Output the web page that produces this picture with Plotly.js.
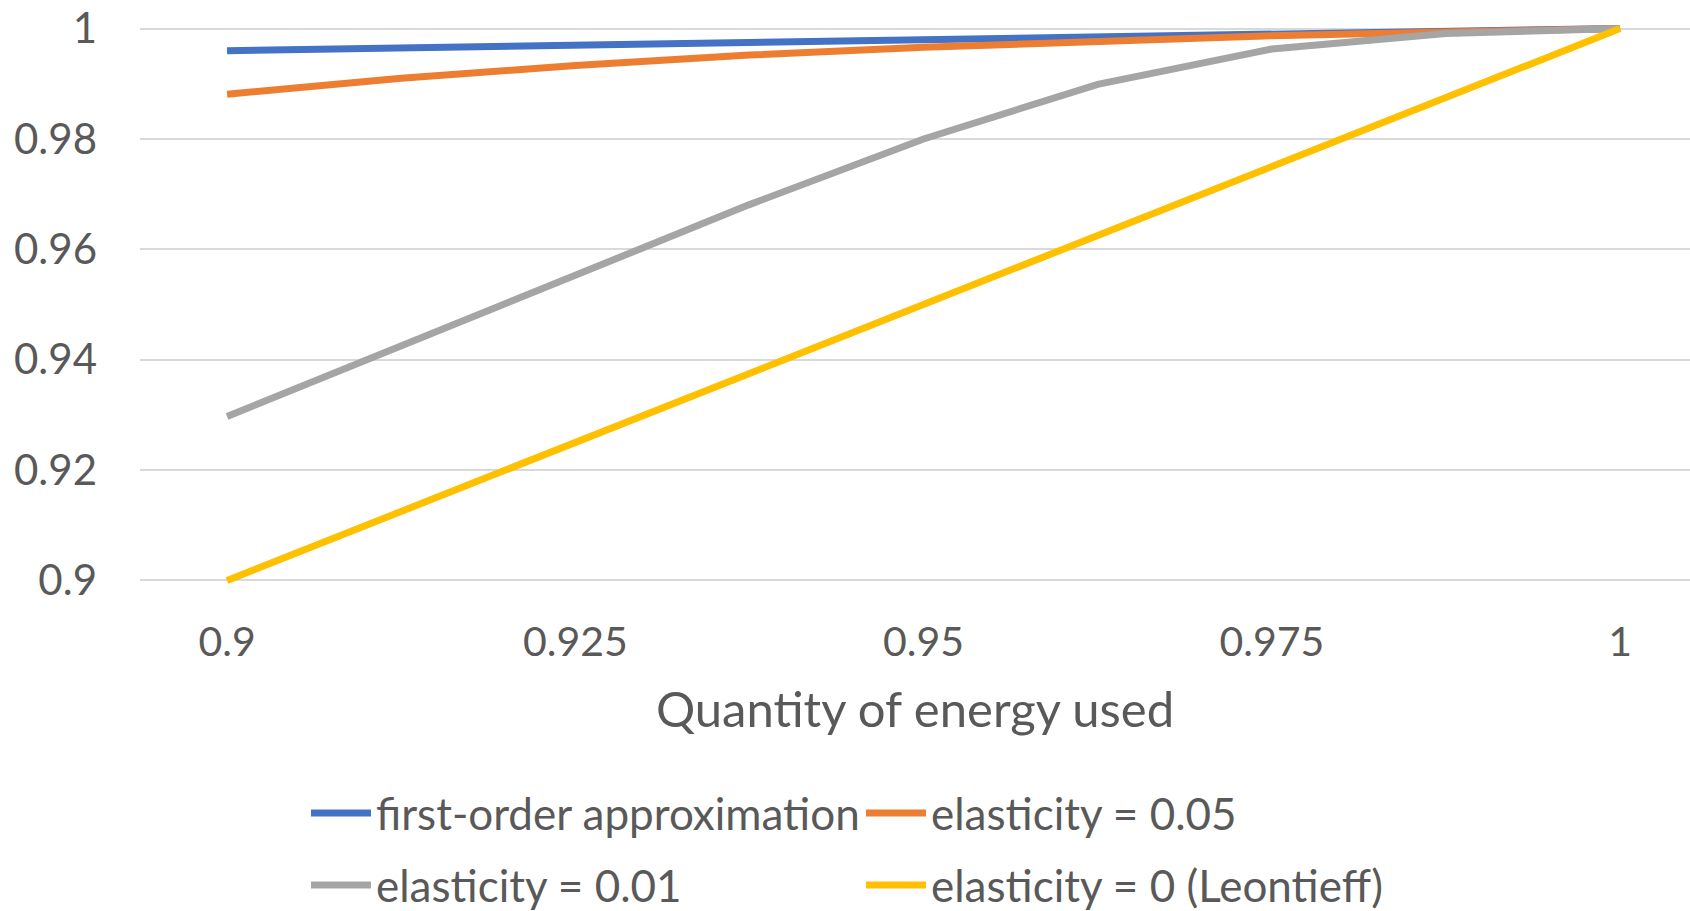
<!DOCTYPE html>
<html>
<head>
<meta charset="utf-8">
<script src="https://cdn.plot.ly/plotly-3.0.1.min.js"></script>
<style>html,body{margin:0;padding:0;background:#fff;}#chart{width:1690px;height:911px;}</style>
</head>
<body>
<div id="chart"></div>
<script>
// Data
const energy = [0.9, 0.9125, 0.925, 0.9375, 0.95, 0.9625, 0.975, 0.9875, 1];
const firstOrder = [0.996, 0.9965, 0.997, 0.9975, 0.998, 0.9985, 0.999, 0.9995, 1];
const elasticity005 = [0.9881, 0.9910, 0.9933, 0.9952, 0.9966, 0.9978, 0.9987, 0.9994, 1];
const elasticity001 = [0.9297, 0.9426, 0.9555, 0.9681, 0.9800, 0.9899, 0.9963, 0.9991, 1];
const leontieff = [0.9, 0.9125, 0.925, 0.9375, 0.95, 0.9625, 0.975, 0.9875, 1];
const seriesNames = ["first-order approximation", "elasticity = 0.05", "elasticity = 0.01", "elasticity = 0 (Leontieff)"];
const seriesColors = ["#4472C4", "#ED7D31", "#A5A5A5", "#FFC000"];
const xTickVals = [0.9, 0.925, 0.95, 0.975, 1];
const xTickText = ["0.9", "0.925", "0.95", "0.975", "1"];
const yTickVals = [0.9, 0.92, 0.94, 0.96, 0.98, 1];
const yTickText = ["0.9", "0.92", "0.94", "0.96", "0.98", "1"];
const xTitle = "Quantity of energy used";

const FONT = "Lato, 'Open Sans', sans-serif";
const TXT = "#595959";
const ys = [firstOrder, elasticity005, elasticity001, leontieff];
const legendIds = ["legend", "legend2", "legend3", "legend4"];

const traces = ys.map((y, i) => ({
  type: "scatter", mode: "lines", x: energy, y: y, name: seriesNames[i],
  line: {color: seriesColors[i], width: 7, shape: "linear"},
  legend: legendIds[i], hoverinfo: "skip"
}));

function leg(x, y) {
  return {x: x, y: y, xanchor: "left", yanchor: "middle", orientation: "h",
    itemwidth: 60,
    font: {family: FONT, size: 44, color: TXT}, bgcolor: "rgba(0,0,0,0)", borderwidth: 0};
}
const colL = (306 - 140) / 1550, colR = (861 - 140) / 1550;
const row1 = (608.3 - 814) / 607.6, row2 = (608.3 - 886) / 607.6;

const layout = {
  width: 1690, height: 911,
  margin: {l: 140, r: 0, t: 0.7, b: 302.7, pad: 0, autoexpand: false},
  paper_bgcolor: "#ffffff", plot_bgcolor: "#ffffff",
  font: {family: FONT, color: TXT},
  showlegend: true,
  xaxis: {
    range: [0.89375, 1.00502], tickvals: xTickVals, ticktext: xTickText,
    showgrid: false, zeroline: false, showline: false, ticks: "",
    ticklabelstandoff: 6, automargin: false,
    tickfont: {family: FONT, size: 41, color: TXT},
    title: {text: xTitle, font: {family: FONT, size: 49, color: TXT}, standoff: 28}
  },
  yaxis: {
    range: [0.895, 1.005], tickvals: yTickVals, ticktext: yTickText,
    showgrid: true, gridcolor: "#D9D9D9", gridwidth: 2, zeroline: false, showline: false, ticks: "",
    ticklabelstandoff: 42, automargin: false,
    tickfont: {family: FONT, size: 42, color: TXT}
  },
  legend: leg(colL, row1),
  legend2: leg(colR, row1),
  legend3: leg(colL, row2),
  legend4: leg(colR, row2)
};

Plotly.newPlot("chart", traces, layout, {displayModeBar: false, staticPlot: true});
</script>
</body>
</html>
